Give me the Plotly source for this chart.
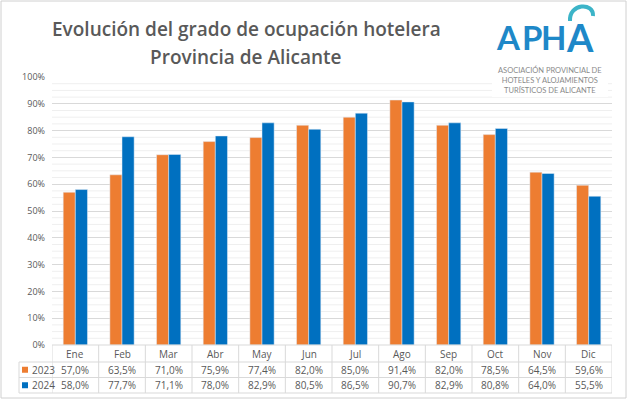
import plotly.graph_objects as go

months = ["Ene", "Feb", "Mar", "Abr", "May", "Jun", "Jul", "Ago", "Sep", "Oct", "Nov", "Dic"]
v2023 = [57.0, 63.5, 71.0, 75.9, 77.4, 82.0, 85.0, 91.4, 82.0, 78.5, 64.5, 59.6]
v2024 = [58.0, 77.7, 71.1, 78.0, 82.9, 80.5, 86.5, 90.7, 82.9, 80.8, 64.0, 55.5]
series_names = ["2023", "2024"]
y_ticks = [0, 10, 20, 30, 40, 50, 60, 70, 80, 90, 100]

ORANGE = "#ED7D31"
BLUE = "#0070C0"
TXT = "#595959"
LINE = "#D9D9D9"

W, H = 628, 400
L, R, T, B = 52, 16, 77, 55
PW, PH = W - L - R, H - T - B


def px(x):
    return (x - L) / PW


def py(y):
    return (H - B - y) / PH


fig = go.Figure()
x = list(range(len(months)))
fig.add_trace(go.Bar(x=x, y=v2023, name=series_names[0], marker_color=ORANGE))
fig.add_trace(go.Bar(x=x, y=v2024, name=series_names[1], marker_color=BLUE))

shapes = []
annotations = []

# minor gridlines
for m in range(0, 41):
    v = m * 2.5
    if v % 10 != 0:
        shapes.append(dict(type="line", xref="paper", yref="y", x0=0, x1=1, y0=v, y1=v,
                           line=dict(color="#EFEFEF", width=1), layer="below"))

# table geometry (pixels)
y_head_top, y_r1, y_r2, y_bot = 345, 362, 377.5, 393
x_leg = 19
shapes.append(dict(type="line", xref="paper", yref="paper", x0=0, x1=1, y0=py(y_head_top), y1=py(y_head_top), line=dict(color=LINE, width=1)))
for yy in [y_r1, y_r2, y_bot]:
    shapes.append(dict(type="line", xref="paper", yref="paper", x0=px(x_leg), x1=1, y0=py(yy), y1=py(yy), line=dict(color=LINE, width=1)))
for i in range(len(months) + 1):
    shapes.append(dict(type="line", xref="x", yref="paper", x0=i - 0.5, x1=i - 0.5, y0=py(y_bot), y1=py(y_head_top), line=dict(color=LINE, width=1)))
shapes.append(dict(type="line", xref="paper", yref="paper", x0=px(x_leg), x1=px(x_leg), y0=py(y_bot), y1=py(y_r1), line=dict(color=LINE, width=1)))

# outer border
shapes.append(dict(type="rect", xref="paper", yref="paper", x0=px(1), x1=px(W - 2), y0=py(H - 2), y1=py(1),
                   line=dict(color="#D0D0D0", width=1)))


def fmt(v):
    return f"{v:.1f}%".replace(".", ",")


rows_y = [(y_head_top + y_r1) / 2, (y_r1 + y_r2) / 2, (y_r2 + y_bot) / 2]
for i, m in enumerate(months):
    annotations.append(dict(x=i, y=py(rows_y[0]), xref="x", yref="paper", text=m, showarrow=False,
                            font=dict(size=10, color=TXT), xanchor="center", yanchor="middle"))
    annotations.append(dict(x=i, y=py(rows_y[1]), xref="x", yref="paper", text=fmt(v2023[i]), showarrow=False,
                            font=dict(size=10, color=TXT), xanchor="center", yanchor="middle"))
    annotations.append(dict(x=i, y=py(rows_y[2]), xref="x", yref="paper", text=fmt(v2024[i]), showarrow=False,
                            font=dict(size=10, color=TXT), xanchor="center", yanchor="middle"))

for k, (nm, col) in enumerate(zip(series_names, [ORANGE, BLUE])):
    yy = rows_y[k + 1]
    shapes.append(dict(type="rect", xref="paper", yref="paper", x0=px(22), x1=px(28), y0=py(yy + 3), y1=py(yy - 3),
                       fillcolor=col, line=dict(width=0)))
    annotations.append(dict(x=px(30), y=py(yy), xref="paper", yref="paper", text=nm, showarrow=False,
                            font=dict(size=10, color=TXT), xanchor="left", yanchor="middle"))

# title
for txt, yy in [("Evolución del grado de ocupación hotelera", 29), ("Provincia de Alicante", 57)]:
    annotations.append(dict(x=px(246), y=py(yy), xref="paper", yref="paper",
                            text=txt, showarrow=False,
                            font=dict(size=19, color=TXT, family="Open Sans", weight=600),
                            xanchor="center", yanchor="middle"))

# logo
shapes.append(dict(type="rect", xref="paper", yref="paper", x0=px(492), x1=px(608), y0=py(97), y1=py(3),
                   fillcolor="white", line=dict(width=0)))
shapes.append(dict(type="path", xref="paper", yref="paper",
                   path=f"M {px(570)},{py(21)} C {px(569)},{py(3)} {px(594)},{py(2)} {px(593)},{py(16)}",
                   line=dict(color="#3CB4C8", width=4)))
for letter, cx, sz in [("A", 508.5, 33), ("P", 532, 33), ("H", 553, 33), ("A", 580, 38)]:
    annotations.append(dict(x=px(cx), y=py(37), xref="paper", yref="paper", text=f"<b>{letter}</b>", showarrow=False,
                            font=dict(size=sz, color="#1E88C8", family="Lato"),
                            xanchor="center", yanchor="middle"))
annotations.append(dict(x=px(550), y=py(80), xref="paper", yref="paper",
                        text="ASOCIACIÓN PROVINCIAL DE<br>HOTELES Y ALOJAMIENTOS<br>TURÍSTICOS DE ALICANTE",
                        showarrow=False, align="center",
                        font=dict(size=7.5, color="#8A8A8A", family="Lato"), xanchor="center", yanchor="middle"))

fig.update_layout(
    width=W, height=H,
    margin=dict(l=L, r=R, t=T, b=B),
    paper_bgcolor="white", plot_bgcolor="white",
    barmode="group", bargap=0.48, bargroupgap=0,
    showlegend=False,
    font=dict(family="Open Sans", color=TXT),
    xaxis=dict(range=[-0.5, 11.5], showticklabels=False, showgrid=False, zeroline=False, ticks=""),
    yaxis=dict(range=[0, 100], tickvals=y_ticks, ticktext=[f"{v}%" for v in y_ticks],
               tickfont=dict(size=9, color=TXT), showgrid=True, gridcolor=LINE, gridwidth=1,
               zeroline=False, ticks="", ticklabelstandoff=6),
    shapes=shapes,
    annotations=annotations,
)

fig.write_html("out.html")
